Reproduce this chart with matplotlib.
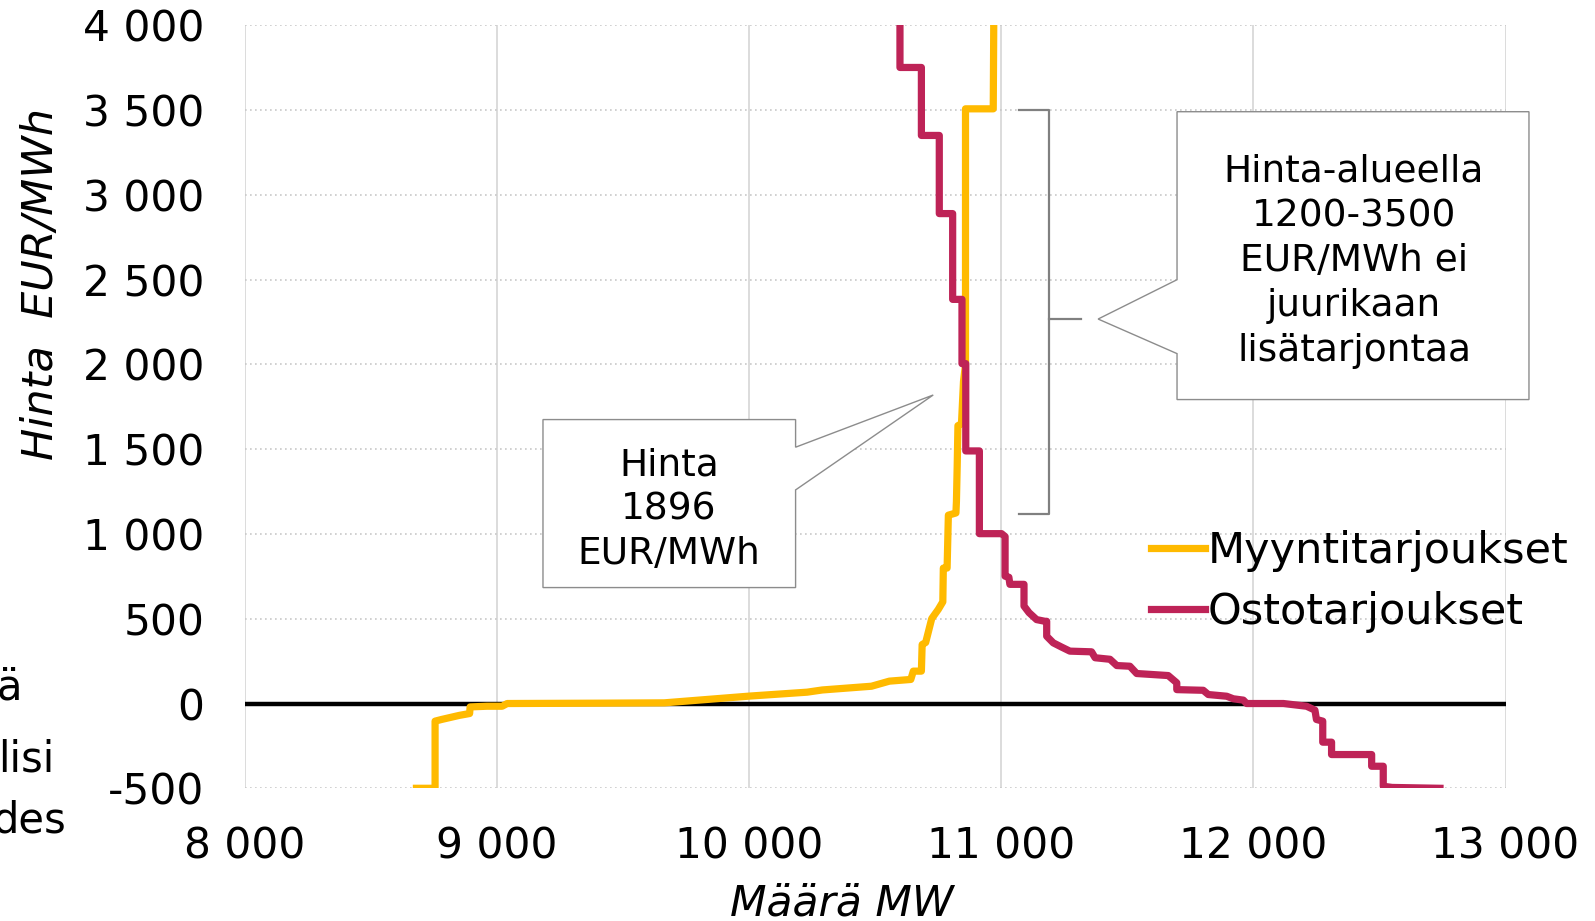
import matplotlib.pyplot as plt
from matplotlib.ticker import FuncFormatter
from matplotlib.patches import Polygon
from matplotlib.lines import Line2D

plt.rcParams["font.family"] = ["DejaVu Sans"]

# supply curve (sell bids), MW vs EUR/MWh
supply_mw = [8680, 8754, 8754, 8780, 8850, 8891, 8893, 8960, 9020, 9040, 9400, 9663,
             10003, 10230, 10290, 10485, 10556, 10641, 10651, 10683, 10686, 10700,
             10724, 10750, 10768, 10770, 10785, 10790, 10820, 10822, 10825, 10828,
             10842, 10850, 10858, 10858, 10968, 10970, 10985]
supply_price = [-500, -500, -104, -94, -70, -59, -20, -16, -16, 0, 2, 4,
                44, 67, 80, 102, 132, 142, 191, 191, 348, 360,
                501, 555, 600, 799, 799, 1111, 1124, 1192, 1400, 1639,
                1650, 1900, 2000, 3508, 3508, 4000, 4500]

# demand curve (buy bids)
demand_mw = [10598, 10598, 10683, 10683, 10754, 10754, 10807, 10807, 10844, 10844,
             10859, 10859, 10913, 10913, 11001, 11015, 11015, 11030, 11034, 11090,
             11090, 11110, 11140, 11173, 11180, 11180, 11206, 11239, 11272, 11358,
             11372, 11431, 11458, 11510, 11537, 11662, 11696, 11696, 11801, 11821,
             11894, 11920, 11960, 11973, 12119, 12211, 12244, 12250, 12275, 12275,
             12310, 12310, 12469, 12469, 12515, 12515, 12550, 12740]
demand_price = [4500, 3752, 3752, 3351, 3351, 2890, 2890, 2384, 2384, 2005,
                2005, 1490, 1490, 1002, 1002, 985, 751, 745, 703, 703,
                575, 536, 495, 485, 485, 397, 358, 333, 309, 305,
                270, 261, 224, 220, 177, 165, 122, 82, 78, 53,
                43, 28, 20, 0, 0, -16, -39, -94, -104, -228,
                -228, -301, -301, -370, -370, -488, -495, -500]

series_labels = ["Myyntitarjoukset", "Ostotarjoukset"]
yellow = "#FFBA00"
red = "#BE2357"

x_ticks = [8000, 9000, 10000, 11000, 12000, 13000]
y_ticks = [-500, 0, 500, 1000, 1500, 2000, 2500, 3000, 3500, 4000]

fig = plt.figure(figsize=(15.95, 9.21), dpi=100)
ax = fig.add_axes([0.1536, 0.1441, 0.7903, 0.8283])

ax.set_xlim(8000, 13000)
ax.set_ylim(-500, 4000)
ax.set_xticks(x_ticks)
ax.set_yticks(y_ticks)

fmt = FuncFormatter(lambda v, p: f"{int(v):,}".replace(",", " "))
ax.xaxis.set_major_formatter(fmt)
ax.yaxis.set_major_formatter(fmt)
ax.tick_params(axis="both", length=0, labelsize=30.5)
ax.tick_params(axis="y", pad=29)
ax.tick_params(axis="x", pad=27)

for s in ax.spines.values():
    s.set_visible(False)

# grid
for xv in x_ticks:
    ax.axvline(xv, color="#d9d9d9", lw=1.3, zorder=0)
for yv in y_ticks:
    ax.axhline(yv, color="#c8c8c8", lw=1.2, ls=(0, (1, 2)), zorder=0)
ax.axhline(0, color="black", lw=3.2, zorder=1)

ax.plot(supply_mw, supply_price, color=yellow, lw=5.2, zorder=3)
ax.plot(demand_mw, demand_price, color=red, lw=5.2, zorder=4)

# callout 1
box1 = Polygon([(9182, 684), (10184, 684), (10184, 1260), (10730, 1820),
                (10184, 1512), (10184, 1675), (9182, 1675)],
               closed=True, facecolor="white", edgecolor="#8c8c8c", lw=1.0,
               zorder=5, clip_on=False)
ax.add_patch(box1)
ax.text(9682, 1145, "Hinta\n1896\nEUR/MWh", ha="center", va="center",
        fontsize=27, linespacing=1.29, zorder=6)

# callout 2
box2 = Polygon([(11697, 1793), (13093, 1793), (13093, 3491), (11697, 3491),
                (11697, 2500), (11384, 2268), (11697, 2064)],
               closed=True, facecolor="white", edgecolor="#8c8c8c", lw=1.0,
               zorder=5, clip_on=False)
ax.add_patch(box2)
ax.text(12399, 2610, "Hinta-alueella\n1200-3500\nEUR/MWh ei\njuurikaan\nlisätarjontaa",
        ha="center", va="center", fontsize=27, linespacing=1.32, zorder=6)

# bracket
br = "#808080"
ax.plot([11070, 11188, 11188, 11070], [3500, 3500, 1120, 1120], color=br, lw=1.6,
        zorder=5, clip_on=False)
ax.plot([11188, 11317], [2268, 2268], color=br, lw=1.6, zorder=5, clip_on=False)

handles = [Line2D([], [], color=yellow, lw=5.2), Line2D([], [], color=red, lw=5.2)]
ax.legend(handles, series_labels, loc="upper left", bbox_to_anchor=(0.7215, 0.425),
          bbox_transform=fig.transFigure, frameon=False, fontsize=31,
          borderpad=0, borderaxespad=0, handlelength=1.25, handletextpad=0.08,
          labelspacing=0.45)

fig.text(0.0257, 0.692, "Hinta  EUR/MWh", rotation=90, style="italic",
         fontsize=31, ha="center", va="center")
fig.text(0.528, 0.019, "Määrä MW", style="italic", fontsize=30.5,
         ha="center", va="center")

# cut-off slide text on the left
fig.text(0.0138, 0.24, "ä", fontsize=30, ha="right", va="baseline")
fig.text(0.0339, 0.1621, "lisi", fontsize=30, ha="right", va="baseline")
fig.text(0.0414, 0.0959, "des", fontsize=30, ha="right", va="baseline")
fig.text(0.9705, -0.012, "4", fontsize=18, color="#C8376B", ha="center", va="center")

fig.savefig("out.png", dpi=100)
